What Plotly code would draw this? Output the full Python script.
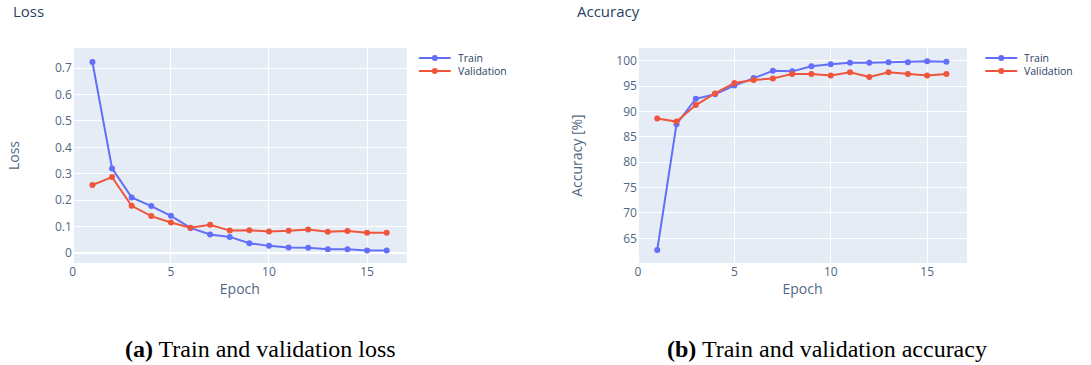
import plotly.graph_objects as go

epochs = list(range(1, 17))

loss_train = [0.724, 0.320, 0.210, 0.177, 0.140, 0.094, 0.069, 0.060,
              0.036, 0.026, 0.020, 0.019, 0.013, 0.013, 0.008, 0.008]
loss_val = [0.257, 0.287, 0.178, 0.139, 0.115, 0.095, 0.106, 0.084,
            0.085, 0.081, 0.083, 0.088, 0.080, 0.082, 0.076, 0.076]

acc_train = [62.7, 87.5, 92.5, 93.4, 95.1, 96.6, 98.0, 97.9,
             98.9, 99.3, 99.6, 99.6, 99.7, 99.7, 99.9, 99.8]
acc_val = [88.6, 88.0, 91.25, 93.55, 95.6, 96.2, 96.5, 97.4,
           97.4, 97.1, 97.7, 96.8, 97.7, 97.4, 97.1, 97.4]

series_names = ["Train", "Validation"]
colors = ["#636efa", "#EF553B"]

W, H = 1091, 365
TICK_FONT = dict(family="Open Sans", size=12, color="#506784")
TITLE_FONT = dict(family="Open Sans", size=14, color="#506784")
LEGEND_FONT = dict(family="Open Sans", size=10.5, color="#2a3f5f")

fig = go.Figure()

for name, ys, col in zip(series_names, [loss_train, loss_val], colors):
    fig.add_trace(go.Scatter(
        x=epochs, y=ys, mode="lines+markers", name=name,
        line=dict(color=col, width=2), marker=dict(size=6, color=col),
        xaxis="x", yaxis="y", showlegend=False))

for name, ys, col in zip(series_names, [acc_train, acc_val], colors):
    fig.add_trace(go.Scatter(
        x=epochs, y=ys, mode="lines+markers", name=name,
        line=dict(color=col, width=2), marker=dict(size=6, color=col),
        xaxis="x2", yaxis="y2", showlegend=False))

y_dom = [(H - 263) / H, (H - 48) / H]

axis_common = dict(gridcolor="white", zerolinecolor="white", zerolinewidth=2,
                   tickfont=TICK_FONT, title_font=TITLE_FONT, showline=False)

fig.update_layout(
    width=W, height=H,
    margin=dict(l=0, r=0, t=0, b=0),
    paper_bgcolor="white",
    plot_bgcolor="#E5ECF6",
    showlegend=False,
    xaxis=dict(domain=[70 / W, 405 / W], anchor="y", range=[0, 17.03],
               tickvals=[0, 5, 10, 15], title=dict(text="Epoch", standoff=5),
               **axis_common),
    yaxis=dict(domain=y_dom, anchor="x", range=[-0.039, 0.777],
               tickvals=[0, 0.1, 0.2, 0.3, 0.4, 0.5, 0.6, 0.7],
               title=dict(text="Loss", standoff=32), **axis_common),
    xaxis2=dict(domain=[636.7 / W, 966.7 / W], anchor="y2", range=[0, 17.07],
                tickvals=[0, 5, 10, 15], title=dict(text="Epoch", standoff=5),
                **axis_common),
    yaxis2=dict(domain=y_dom, anchor="x2", range=[60.15, 102.5],
                tickvals=[65, 70, 75, 80, 85, 90, 95, 100],
                title=dict(text="Accuracy [%]", standoff=30), **axis_common),
)

# legend entries for each panel: line sample, marker dot, label
for x0 in (417, 985):
    for i, (name, col) in enumerate(zip(series_names, colors)):
        ypx = 58 + 13 * i
        yp = 1 - ypx / H
        fig.add_shape(type="line", xref="paper", yref="paper",
                      x0=x0 / W, x1=(x0 + 32) / W, y0=yp, y1=yp,
                      line=dict(color=col, width=2))
        fig.add_shape(type="circle", xref="paper", yref="paper",
                      x0=(x0 + 16 - 3) / W, x1=(x0 + 16 + 3) / W,
                      y0=yp - 3 / H, y1=yp + 3 / H,
                      line=dict(color=col, width=0), fillcolor=col)
        fig.add_annotation(text=name, xref="paper", yref="paper",
                           x=(x0 + 37) / W, y=yp, xanchor="left", yanchor="middle",
                           height=12, valign="middle",
                           showarrow=False, font=LEGEND_FONT)

# panel titles
for text, xpx in [("Loss", 8), ("Accuracy", 574)]:
    fig.add_annotation(text=text, xref="paper", yref="paper",
                       x=xpx / W, y=1 - 11 / H, xanchor="left", yanchor="middle",
                       showarrow=False,
                       font=dict(family="Open Sans", size=15, color="#2a3f5f"))

# captions under each panel
for text, xc in [("<b>(a)</b> Train and validation loss", 258),
                 ("<b>(b)</b> Train and validation accuracy", 826)]:
    fig.add_annotation(text=text, xref="paper", yref="paper",
                       x=xc / W, y=1 - 349 / H, xanchor="center", yanchor="middle",
                       showarrow=False,
                       font=dict(family="Liberation Serif", size=24, color="black"))

fig.write_html("out.html")
